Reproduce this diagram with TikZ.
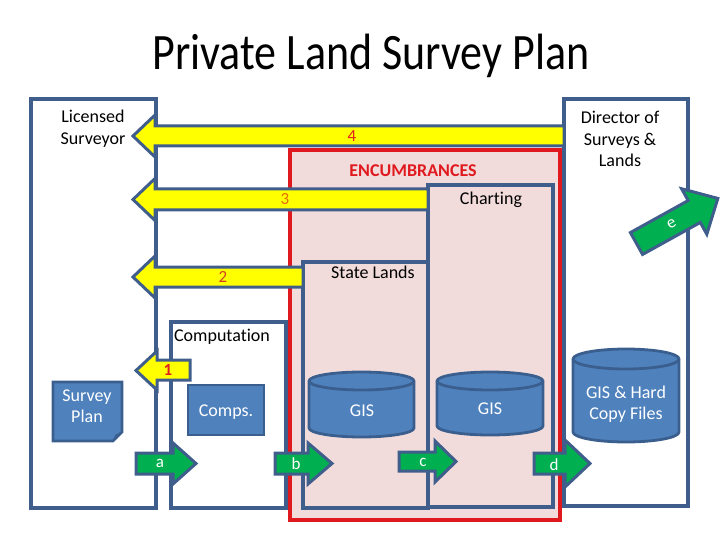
\documentclass[tikz,border=0pt]{standalone}
\usepackage{fontspec}
\setmainfont{Carlito}[Ligatures={NoCommon}]
\definecolor{boxblue}{HTML}{3F5E8C}
\definecolor{cylblue}{HTML}{4F81BD}
\definecolor{cylline}{HTML}{3A5F8F}
\definecolor{pinkfill}{HTML}{F2DCDB}
\definecolor{encred}{HTML}{E0191F}
\definecolor{arryellow}{HTML}{FFFF00}
\definecolor{arrgreen}{HTML}{00B050}
\definecolor{numred}{HTML}{E02020}
\definecolor{numorange}{HTML}{E46C0A}
\definecolor{numbrown}{HTML}{D0401F}
\newcommand\bodyfont{\fontsize{18}{21.5}\selectfont}
\newcommand\numfont{\fontsize{17}{19}\selectfont}
\begin{document}
\begin{tikzpicture}[x=1pt,y=-1pt,
  frame/.style={draw=boxblue, line width=3.1pt, inner sep=0pt, outer sep=0pt, anchor=north west},
  encframe/.style={draw=encred, fill=pinkfill, line width=3.6pt, inner sep=0pt, outer sep=0pt, anchor=north west},
  yarrow/.style={draw=boxblue, fill=arryellow, line width=3pt, line join=miter},
  garrow/.style={draw=boxblue, fill=arrgreen, line width=3pt, line join=miter},
  blueshape/.style={draw=cylline, fill=cylblue, line width=2.8pt},
  txt/.style={font=\bodyfont, align=center, inner sep=0pt},
  wtxt/.style={font=\bodyfont, align=center, inner sep=0pt, text=white},
  lbl/.style={font=\numfont, inner sep=0pt},
]
\useasboundingbox (0,0) rectangle (720,540);

% title
\node[inner sep=0pt] (title) at (371,56) {\scalebox{1}[1.16]{\fontsize{44}{44}\selectfont Private Land Survey Plan}};

% encumbrances region and inner boxes
\node[encframe, minimum width=270pt, minimum height=370pt] (enc) at (290,150) {};
\node[frame, fill=pinkfill, minimum width=125pt, minimum height=246pt] (state) at (303,262) {};
\node[frame, fill=pinkfill, minimum width=125pt, minimum height=322pt] (chart) at (428,185) {};

% outer boxes
\node[frame, minimum width=125pt, minimum height=409pt] (ls) at (31,99) {};
\node[frame, minimum width=124pt, minimum height=407pt] (dir) at (564,99) {};
\node[frame, minimum width=115pt, minimum height=186pt] (comp) at (171,322) {};

% yellow arrows
\draw[yarrow] (564,126) -- (155,126) -- (155,115) -- (133,136) -- (155,157) -- (155,146) -- (564,146) -- cycle;
\draw[yarrow] (428,189) -- (155,189) -- (155,178.5) -- (133,199.5) -- (155,220.5) -- (155,210) -- (428,210) -- cycle;
\draw[yarrow] (303,267) -- (155,267) -- (155,256) -- (133,277) -- (155,298) -- (155,287) -- (303,287) -- cycle;
\draw[yarrow] (190,360) -- (157,360) -- (157,351) -- (136,370.5) -- (157,390) -- (157,380) -- (190,380) -- cycle;

% green arrows
\draw[garrow] (136,453) -- (173,453) -- (173,443) -- (196,463.5) -- (173,484) -- (173,474) -- (136,474) -- cycle;
\draw[garrow] (275,453) -- (308,453) -- (308,443) -- (332,463.5) -- (308,484) -- (308,474) -- (275,474) -- cycle;
\draw[garrow] (399,452) -- (435,452) -- (435,441) -- (456,461.5) -- (435,482) -- (435,471) -- (399,471) -- cycle;
\draw[garrow] (534,453) -- (565,453) -- (565,440) -- (590,463.5) -- (565,487) -- (565,474) -- (534,474) -- cycle;
\begin{scope}[shift={(636.5,243.5)}, rotate=29]
  \draw[garrow] (0,-12.5) -- (66,-12.5) -- (66,-26) -- (93,0) -- (66,26) -- (66,12.5) -- (0,12.5) -- cycle;
  \node[lbl, text=white, rotate=29] (le) at (40,0) {e};
\end{scope}

% survey plan document shape
\draw[blueshape] (53,382) -- (122,382) -- (122,432) -- (113,441) -- (53,441) -- cycle;
\fill[cylline] (113,441) -- (122,432) -- (115.5,434.5) -- cycle;
% comps
\node[blueshape, minimum width=76pt, minimum height=50pt, inner sep=0pt, outer sep=0pt, anchor=north west] (comps) at (188,385) {};

% cylinders
\filldraw[blueshape] (309,381) -- (309,428) arc[start angle=180, end angle=360, x radius=52.5pt, y radius=9pt] -- (414,381) arc[start angle=0, end angle=180, x radius=52.5pt, y radius=9pt] -- cycle;
\draw[draw=cylline, line width=2.8pt] (309,381) arc[start angle=180, end angle=360, x radius=52.5pt, y radius=9pt];
\filldraw[blueshape] (437,381) -- (437,426) arc[start angle=180, end angle=360, x radius=53pt, y radius=9pt] -- (543,381) arc[start angle=0, end angle=180, x radius=53pt, y radius=9pt] -- cycle;
\draw[draw=cylline, line width=2.8pt] (437,381) arc[start angle=180, end angle=360, x radius=53pt, y radius=9pt];
\filldraw[blueshape] (573,359) -- (573,432) arc[start angle=180, end angle=360, x radius=53pt, y radius=10pt] -- (679,359) arc[start angle=0, end angle=180, x radius=53pt, y radius=10pt] -- cycle;
\draw[draw=cylline, line width=2.8pt] (573,359) arc[start angle=180, end angle=360, x radius=53pt, y radius=10pt];

% texts
\node[txt] (tls) at (93,128.5) {Licensed\\Surveyor};
\node[txt] (tdir) at (620,139) {Director of\\Surveys \&\\Lands};
\node[txt, font=\bodyfont\bfseries, text=encred] (tenc) at (413,171) {ENCUMBRANCES};
\node[txt, anchor=base] (tchart) at (491,205) {Charting};
\node[txt, anchor=base] (tstate) at (373,278) {State Lands};
\node[txt, anchor=base] (tcomp) at (222,341) {Computation};
\node[wtxt] (tsp) at (87,406) {Survey\\Plan};
\node[wtxt, anchor=base] (tcomps) at (226,416) {Comps.};
\node[wtxt, anchor=base] (tgis1) at (362,416) {GIS};
\node[wtxt, anchor=base] (tgis2) at (490,414) {GIS};
\node[wtxt] (tgis3) at (626,404) {GIS \& Hard\\Copy Files};

% arrow labels
\node[lbl, text=numred] (l4) at (352,136) {4};
\node[lbl, text=numorange] (l3) at (285,199.5) {3};
\node[lbl, text=numbrown] (l2) at (223,277) {2};
\node[lbl, text=numred, font=\numfont\bfseries] (l1) at (168,370) {1};
\node[lbl, text=white] (la) at (160,463.5) {a};
\node[lbl, text=white] (lb) at (296,464) {b};
\node[lbl, text=white] (lc) at (423,462) {c};
\node[lbl, text=white] (ld) at (554,465) {d};
\end{tikzpicture}
\end{document}
